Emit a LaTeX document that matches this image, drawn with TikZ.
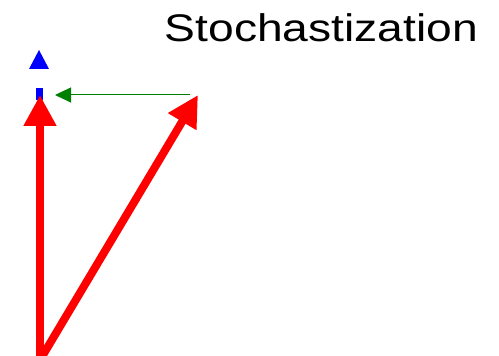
\documentclass[tikz,border=0pt]{standalone}
\usepackage{fontspec}
\setmainfont{Liberation Sans}
\usetikzlibrary{arrows.meta}
\begin{document}
\begin{tikzpicture}[x=1pt,y=1pt,
  redvec/.style={draw=red, line width=8pt, -{Triangle[width=31pt,length=31pt]}},
  greenvec/.style={draw=green!50!black, line width=1pt, -{Triangle[width=15pt,length=16pt]}},
  bluebar/.style={draw=blue, line width=6.5pt},
  bluehead/.style={fill=blue, draw=none}]
\useasboundingbox (0,0) rectangle (499,356);
\coordinate (o) at (40,-4);
\coordinate (t1) at (40,261);
\coordinate (t2) at (198,261);
\coordinate (g1) at (190,261);
\coordinate (g2) at (55,261);
\coordinate (b1) at (39.5,256);
\coordinate (b2) at (39.5,268);
\coordinate (bt) at (39,306);
\coordinate (bl) at (29,287);
\coordinate (br) at (49,287);
\draw[bluebar] (b1) -- (b2);
\fill[bluehead] (bl) -- (bt) -- (br) -- cycle;
\draw[redvec] (o) -- (t1);
\draw[redvec] (o) -- (t2);
\draw[greenvec] (g1) -- (g2);
\node[anchor=base, inner sep=0pt, font=\fontsize{38.5}{40}\selectfont, xscale=1.2] (title) at (321.5,314) {Stochastization};
\end{tikzpicture}
\end{document}
